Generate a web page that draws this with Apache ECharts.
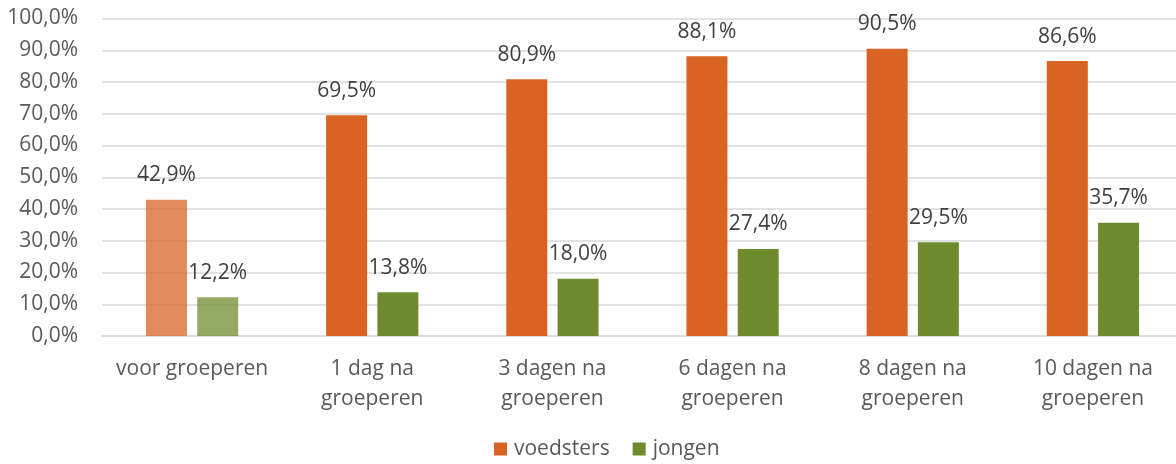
<!DOCTYPE html>
<html>
<head>
<meta charset="utf-8">
<script src="https://cdn.jsdelivr.net/npm/echarts@6/dist/echarts.min.js"></script>
<style>html,body{margin:0;padding:0;background:#fff;overflow:hidden}#c{width:1183px;height:464px}</style>
</head>
<body>
<div id="c"></div>
<script>
const categories = ['voor groeperen', '1 dag na\ngroeperen', '3 dagen na\ngroeperen', '6 dagen na\ngroeperen', '8 dagen na\ngroeperen', '10 dagen na\ngroeperen'];
const voedsters = [42.9, 69.5, 80.9, 88.1, 90.5, 86.6];
const jongen = [12.2, 13.8, 18.0, 27.4, 29.5, 35.7];
const seriesNames = ['voedsters', 'jongen'];
const colors = ['#D86322', '#6E8C2E'];
const fadedColors = ['rgba(216,99,34,0.74)', 'rgba(110,140,46,0.74)'];

const FONT = '"Open Sans", sans-serif';
const FS = 21;
const fmt = v => v.toFixed(1).replace('.', ',') + '%';

function mk(vals, s) {
  return vals.map((v, i) => i === 0 ? { value: v, itemStyle: { color: fadedColors[s] } } : v);
}
function lbl() {
  return { show: true, position: 'top', distance: 14, color: '#404040', fontSize: FS, fontFamily: FONT, formatter: p => fmt(p.value) };
}

const chart = echarts.init(document.getElementById('c'));
chart.setOption({
  animation: false,
  color: colors,
  textStyle: { fontFamily: FONT },
  grid: { left: 102, right: 0, top: 18.5, bottom: 128, containLabel: false },
  legend: {
    data: seriesNames,
    top: 438,
    left: 494,
    padding: 0,
    icon: 'rect',
    itemWidth: 13,
    itemHeight: 13,
    itemGap: 23,
    textStyle: { color: '#595959', fontSize: FS, lineHeight: 22, fontFamily: FONT, padding: [0, 0, 0, 2] }
  },
  xAxis: {
    type: 'category',
    data: categories,
    axisTick: { show: false },
    axisLine: { lineStyle: { color: '#D9D9D9', width: 1.5 } },
    axisLabel: { color: '#595959', fontSize: FS, lineHeight: 30, margin: 18, fontFamily: FONT, interval: 0 }
  },
  yAxis: {
    type: 'value',
    min: 0, max: 100, interval: 10,
    axisLine: { show: false },
    axisTick: { show: false },
    splitLine: { lineStyle: { color: '#D9D9D9', width: 1.5 } },
    axisLabel: { color: '#595959', fontSize: FS, margin: 24, fontFamily: FONT, formatter: fmt }
  },
  series: [
    { name: seriesNames[0], type: 'bar', data: mk(voedsters, 0), barWidth: 41, barGap: '25%', label: lbl() },
    { name: seriesNames[1], type: 'bar', data: mk(jongen, 1), barWidth: 41, barGap: '25%', label: lbl() }
  ]
});
</script>
</body>
</html>
